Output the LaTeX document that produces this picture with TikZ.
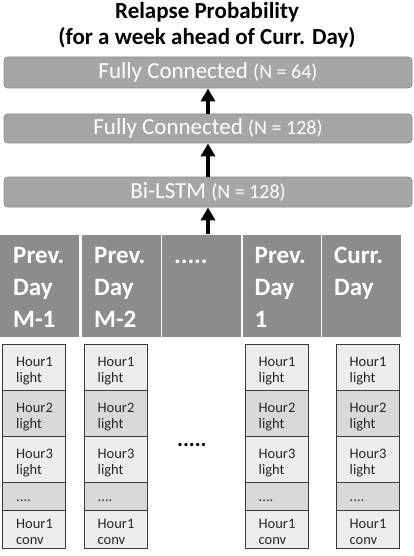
\documentclass[tikz,border=0pt]{standalone}
\usepackage{fontspec}
\setmainfont{Carlito}
\usetikzlibrary{arrows.meta,calc}
\definecolor{boxfill}{HTML}{A6A6A6}
\definecolor{boxline}{HTML}{8A8A8A}
\definecolor{dayfill}{HTML}{8C8C8C}
\definecolor{hlight}{HTML}{EDEDED}
\definecolor{hdark}{HTML}{D9D9D9}
\definecolor{hline}{HTML}{3A3A3A}
\definecolor{htxt}{HTML}{262626}
\begin{document}
\begin{tikzpicture}[x=1pt,y=-1pt,
  layerbox/.style={draw=boxline, fill=boxfill, rounded corners=4pt, line width=0.9pt,
    minimum width=408pt, inner sep=0pt, text=white},
  uparrow/.style={line width=4pt, -{Triangle[width=14pt,length=13pt]}},
  daycell/.style={fill=dayfill, minimum width=78.5pt, minimum height=102pt, inner sep=0pt, anchor=north west},
  daytext/.style={text=white, inner sep=0pt, anchor=base west, font=\bfseries\fontsize{25}{32}\selectfont},
  hcell/.style={draw=hline, line width=1.2pt, minimum width=63pt, inner sep=0pt, anchor=north west},
  htext/.style={text=htxt, inner sep=0pt, anchor=base west, font=\fontsize{14.5}{16}\selectfont},
  titletext/.style={inner sep=0pt, anchor=base, font=\bfseries\fontsize{23}{26.5}\selectfont}]
\useasboundingbox (0,0) rectangle (414,556);

% title
\node[titletext] (t1) at (207,18.5) {Relapse Probability};
\node[titletext] (t2) at (207,45) {(for a week ahead of Curr. Day)};

% layers
\node[layerbox, minimum height=31pt] (fc64) at (208,72.5)
  {\fontsize{23}{26}\selectfont Fully Connected \fontsize{20}{22}\selectfont(N = 64)};
\node[layerbox, minimum height=29pt] (fc128) at (208,128.5)
  {\fontsize{23}{26}\selectfont Fully Connected \fontsize{20}{22}\selectfont(N = 128)};
\node[layerbox, minimum height=30pt] (bilstm) at (208,192)
  {\fontsize{23}{26}\selectfont Bi-LSTM \fontsize{20}{22}\selectfont(N = 128)};

\draw[uparrow] (fc128.north) -- (fc64.south);
\draw[uparrow] (bilstm.north) -- (fc128.south);
\coordinate (in3) at (208,234);
\draw[uparrow] (in3) -- (bilstm.south);

% day cells
\node[daycell] (d1) at (0,235) {};
\node[daycell] (d2) at (82,235) {};
\node[daycell] (d3) at (162,235) {};
\node[daycell] (d4) at (242.5,235) {};
\node[daycell] (d5) at (322,235) {};
\node[daytext] (d1t) at ($(d1.north west)+(13,28)$) {\parbox[t]{62pt}{Prev.\\Day\\M-1}};
\node[daytext] (d2t) at ($(d2.north west)+(12,28)$) {\parbox[t]{62pt}{Prev.\\Day\\M-2}};
\node[daytext] (d3t) at ($(d3.north west)+(12,28)$) {.....};
\node[daytext] (d4t) at ($(d4.north west)+(12,28)$) {\parbox[t]{62pt}{Prev.\\Day\\1}};
\node[daytext] (d5t) at ($(d5.north west)+(12,28)$) {\parbox[t]{62pt}{Curr.\\Day}};

% hour columns
\foreach \c/\x in {1/2,2/83.5,4/244.5,5/335.5}{
  \node[hcell, fill=hlight, minimum height=46pt] (h\c a) at (\x,344) {};
  \node[hcell, fill=hdark,  minimum height=46pt] (h\c b) at (\x,390) {};
  \node[hcell, fill=hlight, minimum height=46pt] (h\c c) at (\x,436) {};
  \node[hcell, fill=hdark,  minimum height=28pt] (h\c d) at (\x,482) {};
  \node[hcell, fill=hlight, minimum height=38pt] (h\c e) at (\x,510) {};
  \node[htext] (t\c a) at ($(h\c a.north west)+(14,22.7)$) {\parbox[t]{46pt}{Hour1\\light}};
  \node[htext] (t\c b) at ($(h\c b.north west)+(14,22.7)$) {\parbox[t]{46pt}{Hour2\\light}};
  \node[htext] (t\c c) at ($(h\c c.north west)+(14,22.7)$) {\parbox[t]{46pt}{Hour3\\light}};
  \node[htext] (t\c d) at ($(h\c d.north west)+(14,19)$) {....};
  \node[htext] (t\c e) at ($(h\c e.north west)+(14,18.5)$) {\parbox[t]{46pt}{Hour1\\conv}};
}
\node[inner sep=0pt, anchor=base west, font=\bfseries\fontsize{22}{24}\selectfont] (mid) at (177,446) {.....};
\end{tikzpicture}
\end{document}
